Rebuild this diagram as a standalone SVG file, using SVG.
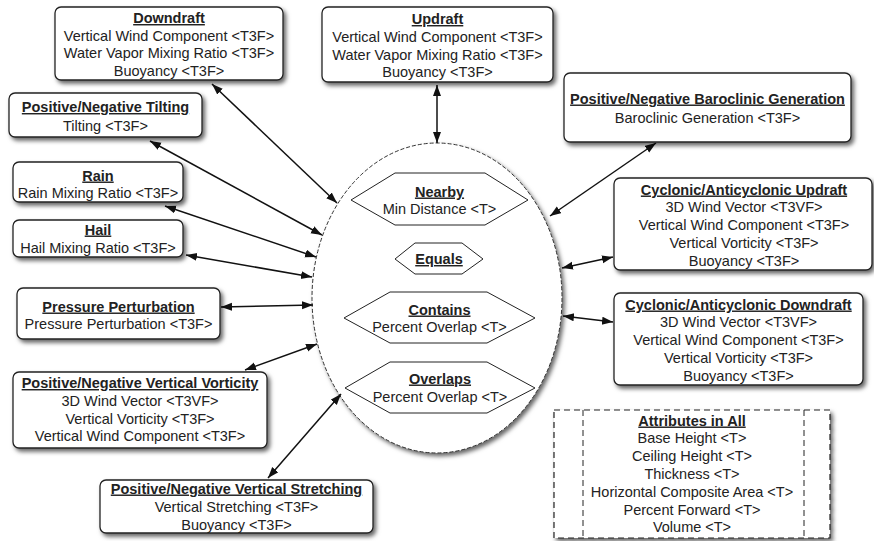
<svg xmlns="http://www.w3.org/2000/svg" width="874" height="541" viewBox="0 0 874 541">
<defs>
<filter id="sh" x="-10%" y="-10%" width="130%" height="140%">
<feDropShadow dx="2.5" dy="3" stdDeviation="2" flood-color="#000" flood-opacity="0.6"/>
</filter>
<marker id="ah" markerUnits="userSpaceOnUse" markerWidth="12" markerHeight="10" refX="11" refY="4" orient="auto-start-reverse">
<path d="M0,0 L11,4 L0,8 z" fill="#111"/>
</marker>
</defs>
<style>
.box{fill:#fff;stroke:#222;stroke-width:1.3;filter:url(#sh)}
.hex{fill:#fff;stroke:#222;stroke-width:1}
text{font-family:"Liberation Sans",Arial,sans-serif;font-size:14.5px;fill:#222;text-anchor:middle}
.t{font-weight:bold;text-decoration:underline}
.c{stroke:#111;stroke-width:1.5;fill:none;marker-start:url(#ah);marker-end:url(#ah)}
</style>

<g id="center">
<ellipse cx="437" cy="298" rx="125" ry="155" fill="#fff" stroke="#333" stroke-width="1" stroke-dasharray="4,2" filter="url(#sh)"/>
<g id="nearby">
<polygon class="hex" points="351,200 395,173 485,173 528,200 485,225 395,225"/>
<text x="439.5" y="196.5" class="t">Nearby</text>
<text x="439.5" y="213.5">Min Distance &lt;T&gt;</text>
</g>
<g id="equals">
<polygon class="hex" points="395,259 415,243 462,243 483,259 462,274 415,274"/>
<text x="439" y="264" class="t">Equals</text>
</g>
<g id="contains">
<polygon class="hex" points="344,318 390,292 487,292 535,318 487,343 390,343"/>
<text x="439.5" y="314.5" class="t">Contains</text>
<text x="439.5" y="331.5">Percent Overlap &lt;T&gt;</text>
</g>
<g id="overlaps">
<polygon class="hex" points="345,388 390,362 487,362 535,388 487,413 390,413"/>
<text x="440" y="383.5" class="t">Overlaps</text>
<text x="440" y="401.5">Percent Overlap &lt;T&gt;</text>
</g>
</g>

<g id="connectors">
<line class="c" x1="212" y1="84" x2="337" y2="203"/>
<line class="c" x1="150" y1="141" x2="322" y2="235"/>
<line class="c" x1="165" y1="206" x2="316" y2="257"/>
<line class="c" x1="186" y1="255" x2="312" y2="277"/>
<line class="c" x1="221" y1="307" x2="313" y2="305"/>
<line class="c" x1="245" y1="370" x2="317" y2="344"/>
<line class="c" x1="268" y1="478" x2="341" y2="394"/>
<line class="c" x1="437" y1="85" x2="437" y2="143"/>
<line class="c" x1="656" y1="143" x2="550" y2="216"/>
<line class="c" x1="613" y1="257" x2="562" y2="268"/>
<line class="c" x1="613" y1="322" x2="563" y2="316"/>
</g>

<g id="downdraft">
<rect class="box" x="55" y="7" width="228" height="73" rx="6"/>
<text x="169" y="23" class="t">Downdraft</text>
<text x="169" y="40.7">Vertical Wind Component &lt;T3F&gt;</text>
<text x="169" y="58.4">Water Vapor Mixing Ratio &lt;T3F&gt;</text>
<text x="169" y="76.1">Buoyancy &lt;T3F&gt;</text>
</g>

<g id="updraft">
<rect class="box" x="322" y="7" width="231" height="75" rx="6"/>
<text x="437.5" y="24" class="t">Updraft</text>
<text x="437.5" y="41.8">Vertical Wind Component &lt;T3F&gt;</text>
<text x="437.5" y="59.6">Water Vapor Mixing Ratio &lt;T3F&gt;</text>
<text x="437.5" y="77.4">Buoyancy &lt;T3F&gt;</text>
</g>

<g id="tilting">
<rect class="box" x="9" y="93" width="193" height="44" rx="6"/>
<text x="105.5" y="112" class="t">Positive/Negative Tilting</text>
<text x="105.5" y="130.5">Tilting &lt;T3F&gt;</text>
</g>

<g id="rain">
<rect class="box" x="13" y="162" width="170" height="40" rx="6"/>
<text x="98" y="180.5" class="t">Rain</text>
<text x="98" y="197.5">Rain Mixing Ratio &lt;T3F&gt;</text>
</g>

<g id="hail">
<rect class="box" x="13" y="220" width="170" height="37" rx="6"/>
<text x="98" y="234.5" class="t">Hail</text>
<text x="98" y="252.5">Hail Mixing Ratio &lt;T3F&gt;</text>
</g>

<g id="pressure">
<rect class="box" x="17" y="288" width="203" height="51" rx="6"/>
<text x="118.5" y="311.5" class="t">Pressure Perturbation</text>
<text x="118.5" y="328.5">Pressure Perturbation &lt;T3F&gt;</text>
</g>

<g id="vorticity">
<rect class="box" x="13" y="372" width="254" height="76" rx="6"/>
<text x="140" y="388" class="t">Positive/Negative Vertical Vorticity</text>
<text x="140" y="405.8">3D Wind Vector &lt;T3VF&gt;</text>
<text x="140" y="423.6">Vertical Vorticity &lt;T3F&gt;</text>
<text x="140" y="441.4">Vertical Wind Component &lt;T3F&gt;</text>
</g>

<g id="stretching">
<rect class="box" x="100" y="480" width="273" height="53" rx="6"/>
<text x="236.5" y="493.5" class="t">Positive/Negative Vertical Stretching</text>
<text x="236.5" y="511.5">Vertical Stretching &lt;T3F&gt;</text>
<text x="236.5" y="529.5">Buoyancy &lt;T3F&gt;</text>
</g>

<g id="baroclinic">
<rect class="box" x="564" y="73" width="287" height="69" rx="6"/>
<text x="707.5" y="103.5" class="t">Positive/Negative Baroclinic Generation</text>
<text x="707.5" y="122.5">Baroclinic Generation &lt;T3F&gt;</text>
</g>

<g id="cyc-updraft">
<rect class="box" x="614" y="178" width="258" height="92" rx="6"/>
<text x="744" y="194.5" class="t">Cyclonic/Anticyclonic Updraft</text>
<text x="744" y="212.3">3D Wind Vector &lt;T3VF&gt;</text>
<text x="744" y="230.1">Vertical Wind Component &lt;T3F&gt;</text>
<text x="744" y="247.9">Vertical Vorticity &lt;T3F&gt;</text>
<text x="744" y="265.7">Buoyancy &lt;T3F&gt;</text>
</g>

<g id="cyc-downdraft">
<rect class="box" x="614" y="293" width="249" height="92" rx="6"/>
<text x="738.5" y="309.5" class="t">Cyclonic/Anticyclonic Downdraft</text>
<text x="738.5" y="327.3">3D Wind Vector &lt;T3VF&gt;</text>
<text x="738.5" y="345.1">Vertical Wind Component &lt;T3F&gt;</text>
<text x="738.5" y="362.9">Vertical Vorticity &lt;T3F&gt;</text>
<text x="738.5" y="380.7">Buoyancy &lt;T3F&gt;</text>
</g>

<g id="attributes">
<rect x="554" y="410" width="276" height="128" fill="#fff" stroke="#222" stroke-width="1.2" stroke-dasharray="6,4" filter="url(#sh)"/>
<line x1="583" y1="410" x2="583" y2="538" stroke="#222" stroke-width="1" stroke-dasharray="6,4"/>
<line x1="804" y1="410" x2="804" y2="538" stroke="#222" stroke-width="1" stroke-dasharray="6,4"/>
<text x="692" y="425.5" class="t">Attributes in All</text>
<text x="692" y="443.3">Base Height &lt;T&gt;</text>
<text x="692" y="461.1">Ceiling Height &lt;T&gt;</text>
<text x="692" y="478.9">Thickness &lt;T&gt;</text>
<text x="692" y="496.7">Horizontal Composite Area &lt;T&gt;</text>
<text x="692" y="514.5">Percent Forward &lt;T&gt;</text>
<text x="692" y="532.3">Volume &lt;T&gt;</text>
</g>
</svg>
